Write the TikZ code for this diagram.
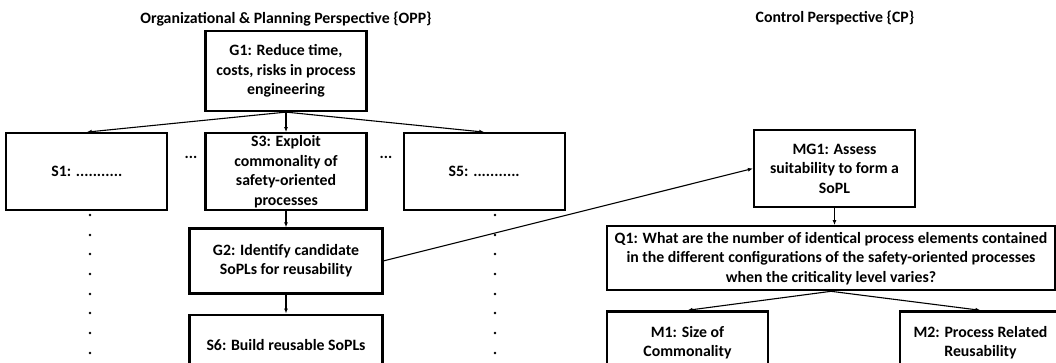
\documentclass[tikz,border=0pt]{standalone}
\usepackage{fontspec}
\setmainfont{Carlito}
\usepackage{tikz}
\usetikzlibrary{arrows.meta, positioning}

\begin{document}
\begin{tikzpicture}[x=1pt, y=-1pt, font=\fontsize{15.8}{19.5}\selectfont\bfseries]
    \tikzstyle{box} = [draw, rectangle, line width=2.2pt, align=center, inner sep=1pt, minimum width=161pt, minimum height=77pt]
    \tikzstyle{link} = [-{Latex[length=5pt, width=4pt]}, line width=1.1pt]
    \useasboundingbox (0,0) rectangle (1056,362);

    % perspectives
    \node (opp) at (286,19) {Organizational \& Planning Perspective \{OPP\}};
    \node (cp) at (835,18) {Control Perspective \{CP\}};

    % OPP side
    \node[box, minimum height=80pt] (g1) at (286,71) {G1: Reduce time,\\costs, risks in process\\engineering};
    \node[box, below=20pt of g1, inner sep=0pt] (s3) {S3: Exploit\\commonality of\\safety-oriented\\processes};
    \node[box, left=36pt of s3] (s1) {S1: ...........};
    \node[box, right=35pt of s3] (s5) {S5: ...........};
    \node (dots1) at (191,157) {...};
    \node (dots2) at (386,157) {...};
    \node[box, below=16pt of s3, minimum width=193pt, minimum height=65pt] (g2) {G2: Identify candidate\\SoPLs for reusability};
    \node[box, below=19pt of g2, minimum width=193pt, minimum height=60pt] (s6) {S6: Build reusable SoPLs};

    \foreach \y in {215,235,254,274,294,313,333,353} {
        \fill (90,\y) circle (1.3pt);
        \fill (495,\y) circle (1.3pt);
    }

    % CP side
    \node[box] (mg1) at (834.5,168.5) {MG1: Assess\\suitability to form a\\SoPL};
    \node[box, below=17pt of mg1, xshift=-3.5pt, minimum width=448pt, minimum height=64pt] (q1) {Q1: What are the number of identical process elements contained\\in the different configurations of the safety-oriented processes\\when the criticality level varies?};
    \node[box, below=19pt of q1.south west, anchor=north west, minimum height=63pt] (m1) {M1: Size of\\Commonality};
    \node[box, below=19pt of q1.south east, anchor=north east, xshift=6pt, minimum height=63pt] (m2) {M2: Process Related\\Reusability};

    \draw[link] (g1.south) -- (s1.north);
    \draw[link] (g1.south) -- (s3.north);
    \draw[link] (g1.south) -- (s5.north);
    \draw[link] (s3.south) -- (g2.north);
    \draw[link] (g2.south) -- (s6.north);
    \draw[link] (g2.east) -- (mg1.west);
    \draw[link] (mg1.south) -- (mg1.south |- q1.north);
    \draw[link] (q1.south) -- (m1.north);
    \draw[link] (q1.south) -- (m2.north);
\end{tikzpicture}
\end{document}
